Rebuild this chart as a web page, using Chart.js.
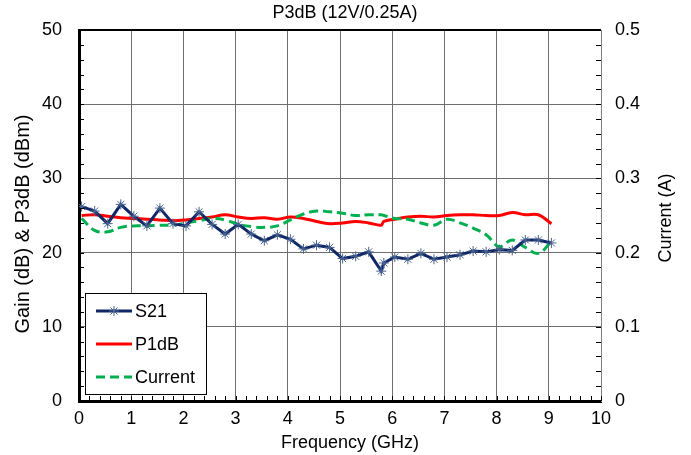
<!DOCTYPE html>
<html>
<head>
<meta charset="utf-8">
<script src="https://cdn.jsdelivr.net/npm/chart.js@4/dist/chart.umd.min.js"></script>
<style>
  html, body { margin: 0; padding: 0; background: #fff; }
  #wrap { width: 691px; height: 455px; }
</style>
</head>
<body>
<div id="wrap"><canvas id="grafico"></canvas></div>
<script>
// Datos
const freq = [0.05, 0.30, 0.55, 0.80, 1.05, 1.30, 1.55, 1.80, 2.05, 2.30, 2.55, 2.80, 3.05, 3.30, 3.55, 3.80,
  4.05, 4.30, 4.55, 4.80, 5.05, 5.30, 5.55, 5.79, 5.84, 6.05, 6.30, 6.55, 6.80, 7.05, 7.30, 7.55,
  7.80, 8.05, 8.30, 8.55, 8.80, 9.05];
const s21 = [26.2, 25.6, 23.9, 26.5, 24.9, 23.6, 26.0, 23.9, 23.6, 25.5, 23.8, 22.5, 23.8, 22.5, 21.6, 22.4,
  21.8, 20.5, 21.0, 20.7, 19.2, 19.5, 20.1, 17.5, 18.6, 19.4, 19.1, 19.9, 19.1, 19.4, 19.7, 20.2,
  20.1, 20.4, 20.3, 21.7, 21.7, 21.3];
const p1db = [25.0, 25.1, 24.9, 24.7, 24.6, 24.5, 24.4, 24.3, 24.4, 24.6, 24.8, 25.1, 24.8, 24.6, 24.7, 24.5,
  24.8, 24.6, 24.2, 23.9, 24.0, 24.2, 24.0, 23.7, 24.2, 24.5, 24.8, 24.9, 24.8, 25.0, 25.1, 25.1,
  25.0, 25.0, 25.4, 25.1, 25.1, 23.9];
const current = [0.246, 0.230, 0.228, 0.234, 0.236, 0.236, 0.237, 0.237, 0.240, 0.243, 0.246, 0.244, 0.238, 0.235, 0.234, 0.236,
  0.244, 0.252, 0.256, 0.255, 0.253, 0.250, 0.251, 0.251, 0.250, 0.246, 0.245, 0.240, 0.237, 0.245, 0.240, 0.233,
  0.224, 0.208, 0.217, 0.207, 0.199, 0.215];
const xTicks = [0, 1, 2, 3, 4, 5, 6, 7, 8, 9, 10];
const yTicks = [0, 10, 20, 30, 40, 50];
const y1Ticks = [0, 0.1, 0.2, 0.3, 0.4, 0.5];

const FUENTE = 'Arial, "Liberation Sans", sans-serif';
const pares = (vals) => vals.map((v, i) => ({ x: freq[i], y: v }));

/* ================================
   Plugin: titulos, ticks menores, leyenda
================================= */
const extras = {
  id: 'extras',
  afterDraw(chart) {
    const { ctx, chartArea: a, scales } = chart;
    ctx.save();

    // ticks menores
    ctx.strokeStyle = '#000';
    ctx.lineWidth = 1;
    ctx.beginPath();
    for (let i = 0; i <= 50; i++) {
      const px = Math.round(scales.x.getPixelForValue(i * 0.2)) + 0.5;
      ctx.moveTo(px, a.bottom);
      ctx.lineTo(px, a.bottom - 5);
    }
    for (let i = 0; i <= 25; i++) {
      const py = Math.round(scales.y.getPixelForValue(i * 2)) + 0.5;
      ctx.moveTo(a.left, py);
      ctx.lineTo(a.left + 5, py);
      ctx.moveTo(a.right, py);
      ctx.lineTo(a.right - 5, py);
    }
    ctx.stroke();

    // marco superior
    ctx.lineWidth = 2;
    ctx.beginPath();
    ctx.moveTo(a.left, a.top);
    ctx.lineTo(a.right, a.top);
    ctx.stroke();

    // textos
    ctx.fillStyle = '#000';
    ctx.textAlign = 'center';
    ctx.textBaseline = 'middle';
    ctx.font = '18px ' + FUENTE;
    ctx.fillText('P3dB (12V/0.25A)', 345, 13);
    ctx.fillText('Frequency (GHz)', 350, 443);

    ctx.save();
    ctx.translate(666, 218);
    ctx.rotate(-Math.PI / 2);
    ctx.fillText('Current (A)', 0, 0);
    ctx.restore();

    ctx.save();
    ctx.font = '20px ' + FUENTE;
    ctx.translate(23, 224);
    ctx.rotate(-Math.PI / 2);
    ctx.fillText('Gain (dB) & P3dB (dBm)', 0, 0);
    ctx.restore();

    // leyenda
    const lx = 85, ly = 293, lw = 121, lh = 101;
    ctx.fillStyle = '#fff';
    ctx.fillRect(lx, ly, lw, lh);
    ctx.strokeStyle = '#000';
    ctx.lineWidth = 1;
    ctx.strokeRect(lx + 0.5, ly + 0.5, lw, lh);

    const filas = [311, 344, 377];
    [0, 1, 2].forEach(i => {
      const ds = chart.data.datasets[i];
      const yy = filas[i];
      ctx.save();
      ctx.strokeStyle = ds.borderColor;
      ctx.lineWidth = ds.borderWidth;
      ctx.setLineDash(ds.borderDash || []);
      ctx.beginPath();
      ctx.moveTo(96, yy);
      ctx.lineTo(132, yy);
      ctx.stroke();
      ctx.restore();
      if (ds.pointStyle === 'star') {
        ctx.strokeStyle = ds.pointBorderColor;
        ctx.lineWidth = 1;
        Chart.helpers.drawPoint(ctx, { pointStyle: 'star', radius: ds.pointRadius, borderWidth: 1 }, 114, yy);
      }
      ctx.fillStyle = '#000';
      ctx.font = '18px ' + FUENTE;
      ctx.textAlign = 'left';
      ctx.textBaseline = 'middle';
      ctx.fillText(ds.label, 135, yy + 1);
    });

    ctx.restore();
  }
};

const grafico = new Chart(document.getElementById('grafico'), {
  type: 'line',
  data: {
    datasets: [
      {
        label: 'S21',
        data: pares(s21),
        yAxisID: 'y',
        borderColor: '#0f2766',
        borderWidth: 3,
        pointStyle: 'star',
        pointRadius: 5,
        pointBorderColor: '#4a6591',
        pointBorderWidth: 1,
        tension: 0,
        order: 0
      },
      {
        label: 'P1dB',
        data: pares(p1db),
        yAxisID: 'y',
        borderColor: '#ff0000',
        borderWidth: 3,
        pointRadius: 0,
        tension: 0.4,
        order: 2
      },
      {
        label: 'Current',
        data: pares(current),
        yAxisID: 'y1',
        borderColor: '#00b050',
        borderWidth: 3,
        borderDash: [9, 5],
        pointRadius: 0,
        tension: 0.4,
        order: 1
      }
    ]
  },
  options: {
    responsive: true,
    maintainAspectRatio: false,
    animation: false,
    layout: { padding: { top: 30, right: 0, left: 0, bottom: 0 } },
    plugins: {
      legend: { display: false },
      title: { display: false },
      tooltip: { enabled: false }
    },
    scales: {
      x: {
        type: 'linear',
        min: 0,
        max: 10,
        afterBuildTicks: s => { s.ticks = xTicks.map(v => ({ value: v })); },
        afterFit: s => { s.height = 54; },
        grid: { color: '#6e6e6e', lineWidth: 1, drawTicks: false },
        border: { color: '#000', width: 3 },
        ticks: { color: '#000', font: { size: 18, family: FUENTE }, padding: 7, maxRotation: 0 }
      },
      y: {
        position: 'left',
        min: 0,
        max: 50,
        afterBuildTicks: s => { s.ticks = yTicks.map(v => ({ value: v })); },
        afterFit: s => { s.width = 79; },
        grid: { color: '#6e6e6e', lineWidth: 1, drawTicks: false },
        border: { color: '#000', width: 3 },
        ticks: { color: '#000', font: { size: 18, family: FUENTE }, padding: 17 }
      },
      y1: {
        position: 'right',
        min: 0,
        max: 0.5,
        afterBuildTicks: s => { s.ticks = y1Ticks.map(v => ({ value: v })); },
        afterFit: s => { s.width = 90; },
        grid: { display: false, drawTicks: false },
        border: { color: '#808080', width: 1 },
        ticks: { color: '#000', font: { size: 18, family: FUENTE }, padding: 14, callback: v => (v === 0 ? '0' : v.toFixed(1)) }
      }
    }
  },
  plugins: [extras]
});
</script>
</body>
</html>
